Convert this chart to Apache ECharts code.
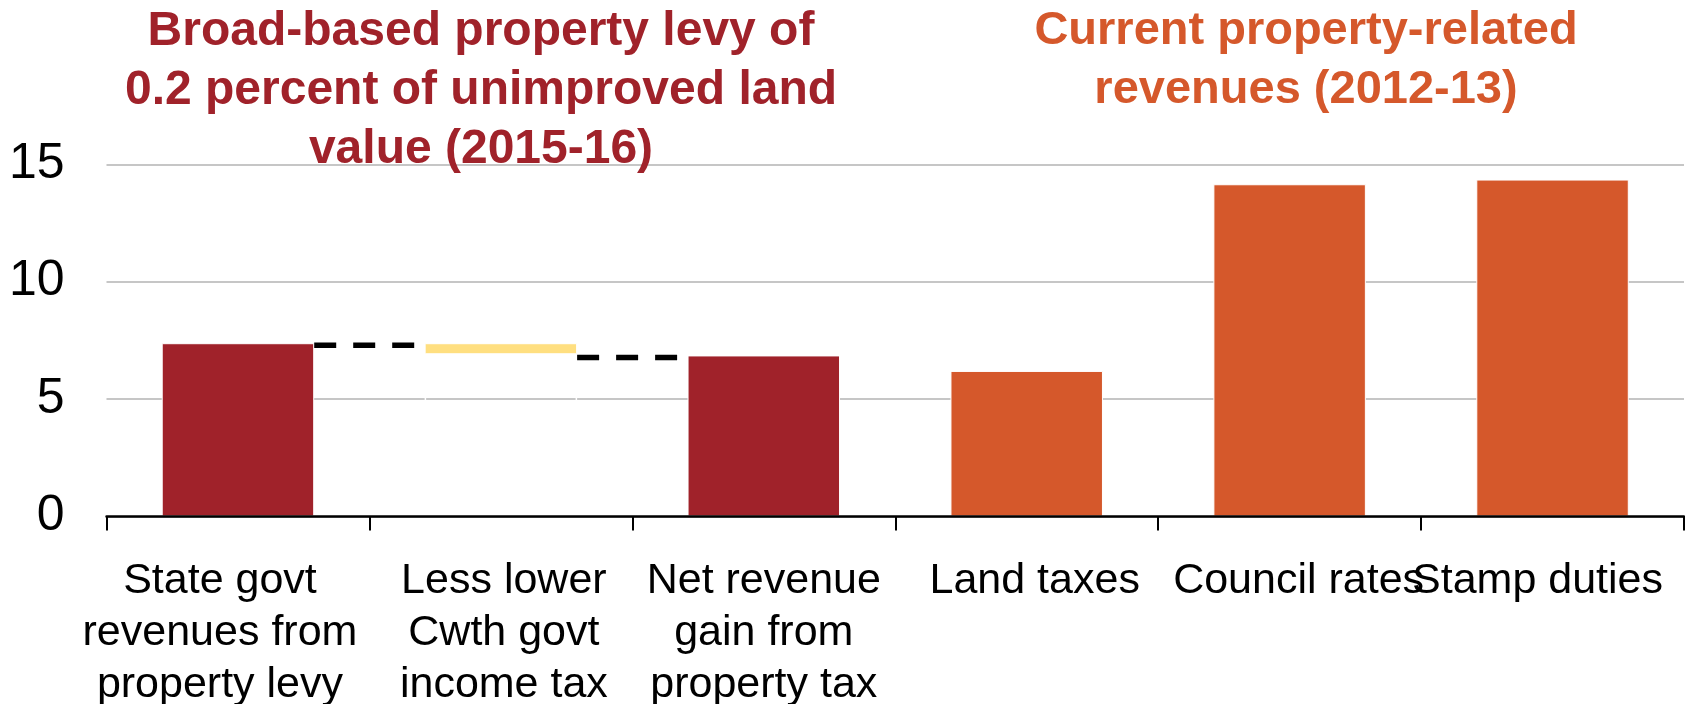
<!DOCTYPE html>
<html>
<head>
<meta charset="utf-8">
<script src="https://cdn.jsdelivr.net/npm/echarts@6/dist/echarts.min.js"></script>
<style>
  html, body { margin: 0; padding: 0; background: #fff; }
  #chart { width: 1685px; height: 704px; }
</style>
</head>
<body>
<div id="chart"></div>
<script>
// categories on the x axis
var categories = [
    'State govt\nrevenues from\nproperty levy',
    'Less lower\nCwth govt\nincome tax',
    'Net revenue\ngain from\nproperty tax',
    'Land taxes',
    'Council rates',
    'Stamp duties'
];
// waterfall part ($b)
var levyValues = [7.38, '-', 6.86, '-', '-', '-'];
var offsetBase = ['-', 6.91, '-', '-', '-', '-'];
var offsetValues = ['-', 0.47, '-', '-', '-', '-'];
// dashed connectors: [from category, level]
var connectors = [[0, 7.38], [1, 6.86]];
// current property-related revenues
var currentValues = ['-', '-', '-', 6.2, 14.15, 14.35];
var yTicks = [0, 5, 10, 15];

var FONT = "'Liberation Sans', Arial, sans-serif";
var RED = '#A0222A', ORANGE = '#D5582B', YELLOW = '#FFDF80';
var BAR_W = 0.58;

// nudges for the wrapped labels, like the original layout
var labelPad = [[0, 36, 0, 0], [0, 0, 0, 6], [0, 0, 0, 0], [0, 0, 0, 16], [0, 0, 0, 18], [0, 30, 0, 0]];

var chart = echarts.init(document.getElementById('chart'));

var option = {
    backgroundColor: '#fff',
    animation: false,
    title: [{
        text: 'Broad-based property levy of\n0.2 percent of unimproved land\nvalue (2015-16)',
        left: 481, top: 2, padding: 0, textAlign: 'center',
        textStyle: { fontFamily: FONT, fontSize: 48, fontWeight: 'bold', color: RED, lineHeight: 59 }
    }, {
        text: 'Current property-related\nrevenues (2012-13)',
        left: 1306, top: 2, padding: 0, textAlign: 'center',
        textStyle: { fontFamily: FONT, fontSize: 47, fontWeight: 'bold', color: ORANGE, lineHeight: 59 }
    }],
    grid: { left: 106.5, right: 1, top: 164.3, bottom: 187.5, outerBoundsMode: 'none', containLabel: false },
    xAxis: {
        type: 'category',
        z: 5,
        data: categories.map(function (c, i) {
            return { value: c, textStyle: { padding: labelPad[i] } };
        }),
        axisLine: { lineStyle: { color: '#000', width: 2.5 } },
        axisTick: { show: true, length: 14, lineStyle: { color: '#000', width: 2 } },
        axisLabel: {
            interval: 0, margin: 39, color: '#000', hideOverlap: false,
            fontFamily: FONT, fontSize: 43, lineHeight: 52
        }
    },
    yAxis: {
        type: 'value',
        min: yTicks[0], max: yTicks[yTicks.length - 1], interval: 5,
        axisLine: { show: false },
        axisTick: { show: false },
        axisLabel: { margin: 42, color: '#000', fontFamily: FONT, fontSize: 50 },
        splitLine: { lineStyle: { color: '#c6c6c6', width: 2 } }
    },
    series: [{
        type: 'bar', name: 'levy', data: levyValues,
        barWidth: (BAR_W * 100) + '%', barGap: '-100%',
        itemStyle: { color: RED, borderColor: '#fff', borderWidth: 1 }
    }, {
        type: 'bar', name: 'base', stack: 'wf', data: offsetBase,
        barWidth: (BAR_W * 100) + '%', barGap: '-100%',
        itemStyle: { color: 'rgba(0,0,0,0)', borderColor: '#fff', borderWidth: 1.5 }
    }, {
        type: 'bar', name: 'offset', stack: 'wf', data: offsetValues,
        barWidth: (BAR_W * 100) + '%', barGap: '-100%',
        itemStyle: { color: YELLOW, borderColor: '#fff', borderWidth: 1 }
    }, {
        type: 'bar', name: 'current', data: currentValues,
        barWidth: (BAR_W * 100) + '%', barGap: '-100%',
        itemStyle: { color: ORANGE, borderColor: '#fff', borderWidth: 1 }
    }, {
        type: 'custom', name: 'connectors', data: connectors, z: 4,
        encode: { x: 0, y: 1 },
        renderItem: function (params, api) {
            var i = api.value(0), v = api.value(1);
            var p0 = api.coord([i, v]);
            var p1 = api.coord([i + 1, v]);
            var half = api.size([1, 0])[0] * BAR_W / 2;
            return {
                type: 'line',
                shape: { x1: p0[0] + half, y1: p0[1] + 2, x2: p1[0] - half, y2: p1[1] + 2 },
                style: { stroke: '#000', lineWidth: 5.5, lineDash: [22, 17] }
            };
        }
    }]
};
chart.setOption(option);
</script>
</body>
</html>
